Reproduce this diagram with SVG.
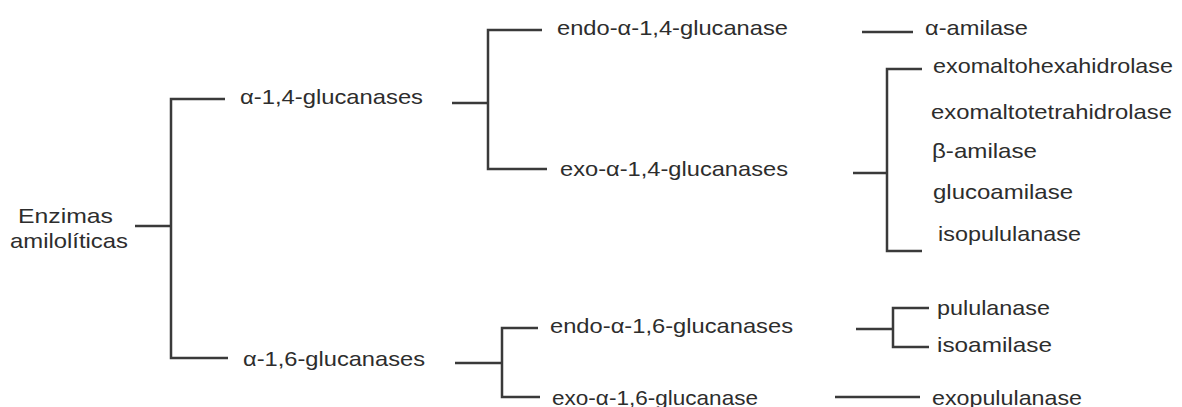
<svg xmlns="http://www.w3.org/2000/svg" width="1182" height="407" viewBox="0 0 1182 407">
  <style>
    .lbl { font-family: "Liberation Sans", Arial, sans-serif; font-size: 21px; fill: #2d2d2d; }
    .conn { fill: none; stroke: #3a3a3a; stroke-width: 2.5; stroke-linecap: butt; stroke-linejoin: miter; }
  </style>
  <rect width="1182" height="407" fill="#ffffff"/>

  <!-- bracket connectors -->
  <g id="connectors">
    <path class="conn" d="M135 226 H171"/>
    <path class="conn" d="M225 99 H171 V358 H228"/>

    <path class="conn" d="M452 103 H488"/>
    <path class="conn" d="M542 30 H488 V169 H547"/>

    <path class="conn" d="M862 32 H913"/>

    <path class="conn" d="M853 173 H887"/>
    <path class="conn" d="M922 69 H887 V251 H922"/>

    <path class="conn" d="M455 363 H502"/>
    <path class="conn" d="M538 328 H502 V397 H540"/>

    <path class="conn" d="M856 329 H893"/>
    <path class="conn" d="M929 308 H893 V347 H929"/>

    <path class="conn" d="M835 397 H920"/>
  </g>

  <g id="root">
    <text class="lbl" x="18" y="223" textLength="95" lengthAdjust="spacingAndGlyphs">Enzimas</text>
    <text class="lbl" x="10" y="248" textLength="118" lengthAdjust="spacingAndGlyphs">amilolíticas</text>
  </g>

  <g id="a14"><text class="lbl" x="240" y="104" textLength="183" lengthAdjust="spacingAndGlyphs">α-1,4-glucanases</text></g>
  <g id="a16"><text class="lbl" x="243" y="366" textLength="182" lengthAdjust="spacingAndGlyphs">α-1,6-glucanases</text></g>

  <g id="endo14"><text class="lbl" x="557" y="35" textLength="231" lengthAdjust="spacingAndGlyphs">endo-α-1,4-glucanase</text></g>
  <g id="exo14"><text class="lbl" x="560" y="176" textLength="228" lengthAdjust="spacingAndGlyphs">exo-α-1,4-glucanases</text></g>
  <g id="endo16"><text class="lbl" x="550" y="333" textLength="243" lengthAdjust="spacingAndGlyphs">endo-α-1,6-glucanases</text></g>
  <g id="exo16"><text class="lbl" x="552" y="405" textLength="206" lengthAdjust="spacingAndGlyphs">exo-α-1,6-glucanase</text></g>

  <g id="alfa-amilase"><text class="lbl" x="925" y="35" textLength="103" lengthAdjust="spacingAndGlyphs">α-amilase</text></g>
  <g id="exomaltohexahidrolase"><text class="lbl" x="933" y="73" textLength="240" lengthAdjust="spacingAndGlyphs">exomaltohexahidrolase</text></g>
  <g id="exomaltotetrahidrolase"><text class="lbl" x="931" y="119" textLength="241" lengthAdjust="spacingAndGlyphs">exomaltotetrahidrolase</text></g>
  <g id="beta-amilase"><text class="lbl" x="932" y="158" textLength="105" lengthAdjust="spacingAndGlyphs">β-amilase</text></g>
  <g id="glucoamilase"><text class="lbl" x="933" y="199" textLength="140" lengthAdjust="spacingAndGlyphs">glucoamilase</text></g>
  <g id="isopululanase"><text class="lbl" x="938" y="241" textLength="143" lengthAdjust="spacingAndGlyphs">isopululanase</text></g>

  <g id="pululanase"><text class="lbl" x="937" y="315" textLength="113" lengthAdjust="spacingAndGlyphs">pululanase</text></g>
  <g id="isoamilase"><text class="lbl" x="937" y="352" textLength="115" lengthAdjust="spacingAndGlyphs">isoamilase</text></g>
  <g id="exopululanase"><text class="lbl" x="932" y="405" textLength="150" lengthAdjust="spacingAndGlyphs">exopululanase</text></g>
</svg>
